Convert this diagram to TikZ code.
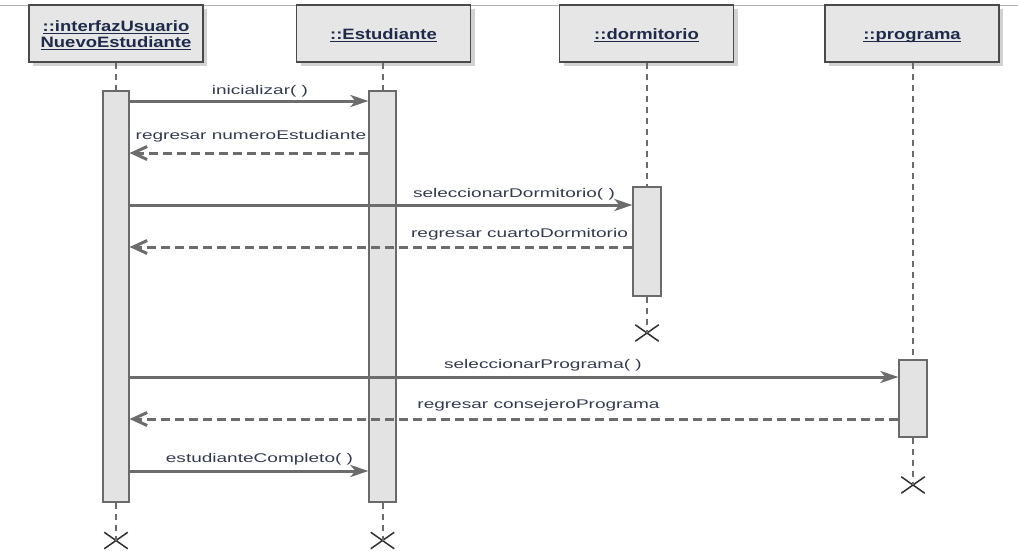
\documentclass[tikz,border=0pt]{standalone}
\usepackage{fontspec}
\setmainfont{Liberation Sans}
\newfontfamily\lblfont[FakeStretch=1.51]{Liberation Sans}
\newfontfamily\ttlfont[FakeStretch=1.23]{Liberation Sans}
\usetikzlibrary{arrows.meta,shadows,shapes.misc}
\definecolor{boxfill}{HTML}{E6E6E6}
\definecolor{actfill}{HTML}{E3E3E3}
\definecolor{boxline}{HTML}{4A4A4A}
\definecolor{actline}{HTML}{6A6A6A}
\definecolor{ln}{HTML}{6C6C6C}
\definecolor{navy}{HTML}{1E2A4A}
\definecolor{lbltext}{HTML}{343A4E}
\definecolor{xcol}{HTML}{303030}
\newcommand\ulx[1]{\setbox0\hbox{#1}\rlap{\rule[-2.6pt]{\wd0}{1.1pt}}\box0}
\newcommand\tstrut{\rule{0pt}{14.5pt}}
\tikzset{
  obj/.style={draw=boxline, line width=1.4pt, fill=boxfill, minimum width=174pt,
    minimum height=57pt, align=center, inner sep=0pt,
    font=\ttlfont\fontsize{15}{16}\selectfont\bfseries, text=navy,
    drop shadow={shadow xshift=4pt, shadow yshift=-4pt, fill=black!22, opacity=0.8}},
  act/.style={draw=actline, line width=1.2pt, fill=actfill, inner sep=0pt},
  life/.style={draw=ln, line width=2pt, dash pattern=on 6pt off 5pt},
  msg/.style={draw=ln, line width=3pt, -{Stealth[length=18pt,width=12pt,inset=5pt]}},
  ret/.style={draw=ln, line width=3pt, dash pattern=on 9pt off 5pt,
    -{Straight Barb[length=14pt,width=13pt]}},
  lbl/.style={font=\lblfont\fontsize{12.6}{14}\selectfont, text=lbltext, anchor=base, inner sep=0pt},
  kill/.style={cross out, draw=xcol, line width=1.5pt, minimum width=22pt,
    minimum height=15pt, inner sep=0pt}
}
\begin{document}
\begin{tikzpicture}[x=1pt,y=-1pt]
\useasboundingbox (0,0) rectangle (1018,550);
\draw[black!30, line width=1pt] (0,5) -- (1018,5);

% objects
\node[obj] (o1) at (116,33.5) {\tstrut\ulx{::interfazUsuario}\\\ulx{NuevoEstudiante}};
\node[obj] (o2) at (383.5,33.5) {\tstrut\ulx{::Estudiante}};
\node[obj] (o3) at (646.5,33.5) {\tstrut\ulx{::dormitorio}};
\node[obj] (o4) at (912,33.5) {\tstrut\ulx{::programa}};

% activation bars
\node[act, minimum width=26pt, minimum height=411pt] (a1) at (116,296.5) {};
\node[act, minimum width=27pt, minimum height=411pt] (a2) at (382.5,296.5) {};
\node[act, minimum width=28pt, minimum height=109pt] (a3) at (647,241.5) {};
\node[act, minimum width=28pt, minimum height=77pt] (a4) at (913,398.5) {};

% destruction marks
\node[kill] (x1) at (116,540.5) {};
\node[kill] (x2) at (382.5,540.5) {};
\node[kill] (x3) at (647,333) {};
\node[kill] (x4) at (913,485) {};

% lifelines
\draw[life] (o1.south) -- (a1.north);
\draw[life] (a1.south) -- (x1.center);
\draw[life] (o2.south -| a2.north) -- (a2.north);
\draw[life] (a2.south) -- (x2.center);
\draw[life] (o3.south -| a3.north) -- (a3.north);
\draw[life] (a3.south) -- (x3.center);
\draw[life] (o4.south -| a4.north) -- (a4.north);
\draw[life] (a4.south) -- (x4.center);

% message levels
\coordinate (y1) at (0,101);
\coordinate (y2) at (0,153);
\coordinate (y3) at (0,205);
\coordinate (y4) at (0,247);
\coordinate (y5) at (0,377);
\coordinate (y6) at (0,419);
\coordinate (y7) at (0,471);

\draw[msg] (a1.east |- y1) -- (a2.west |- y1);
\draw[ret] (a2.west |- y2) -- (a1.east |- y2);
\draw[msg] (a1.east |- y3) -- (a3.west |- y3);
\draw[ret] (a3.west |- y4) -- (a1.east |- y4);
\draw[msg] (a1.east |- y5) -- (a4.west |- y5);
\draw[ret] (a4.west |- y6) -- (a1.east |- y6);
\draw[msg] (a1.east |- y7) -- (a2.west |- y7);

% labels
\node[lbl] (l1) at (260,94) {inicializar( )};
\node[lbl] (l2) at (251,139) {regresar numeroEstudiante};
\node[lbl] (l3) at (514,197) {seleccionarDormitorio( )};
\node[lbl] (l4) at (519.5,237) {regresar cuartoDormitorio};
\node[lbl] (l5) at (543,368) {seleccionarPrograma( )};
\node[lbl] (l6) at (538.5,408) {regresar consejeroPrograma};
\node[lbl] (l7) at (259.5,462) {estudianteCompleto( )};
\end{tikzpicture}
\end{document}
